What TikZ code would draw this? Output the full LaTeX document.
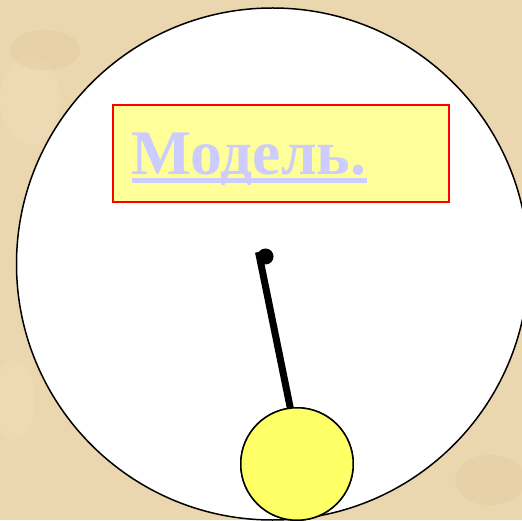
\documentclass[tikz,border=0pt]{standalone}
\usepackage{fontspec}
\setmainfont{Liberation Serif}
\definecolor{parch}{HTML}{EAD6AF}
\definecolor{parchlight}{HTML}{EFDDBA}
\definecolor{parchdark}{HTML}{E3CDA3}
\definecolor{boxfill}{HTML}{FFFF99}
\definecolor{bobfill}{HTML}{FFFF66}
\definecolor{titlecol}{HTML}{CCCCFF}
\tikzset{
  dial/.style={draw=black, line width=1.5pt, fill=white},
  titlebox/.style={draw=red, line width=2pt, fill=boxfill},
  rod/.style={line width=7pt, draw=black},
  bob/.style={circle, draw=black, line width=1.5pt, fill=bobfill, minimum size=112.5pt, inner sep=0pt},
  pivot/.style={circle, fill=black, minimum size=16pt, inner sep=0pt},
  title/.style={font=\bfseries\fontsize{63.5}{70}\selectfont, text=titlecol, inner sep=0pt, anchor=base west}
}
\begin{document}
\begin{tikzpicture}[x=1pt,y=1pt]
\useasboundingbox (0,0) rectangle (522,520);
% parchment background
\fill[parch] (0,0) rectangle (522,520);
\fill[parchlight, opacity=0.6] (30,420) ellipse (30 and 45);
\fill[parchdark, opacity=0.6] (45,470) ellipse (35 and 20);
\fill[parchlight, opacity=0.6] (15,120) ellipse (20 and 40);
\fill[parchdark, opacity=0.5] (490,40) ellipse (35 and 25);
% dial
\fill[white] (272.5,256) circle (256);
\clip (0,0) rectangle (522,520);
\draw[dial] (272.5,256) circle (256);
% title box
\draw[titlebox] (113,415) rectangle (449,318);
\node[title] (txt) at (131.5,345) {Модель.};
\fill[titlecol] ([yshift=-3.3pt]txt.base west) rectangle ([yshift=-8.3pt,xshift=1pt]txt.base east);
% pendulum
\coordinate (top) at (258.5,268);
\coordinate (bottom) at (290.7,110);
\node[bob] (b) at (297,56) {};
\draw[rod] (top) -- (bottom);
\node[pivot] (p) at (265.5,263.5) {};
\node[bob] at (b) {};
\end{tikzpicture}
\end{document}
